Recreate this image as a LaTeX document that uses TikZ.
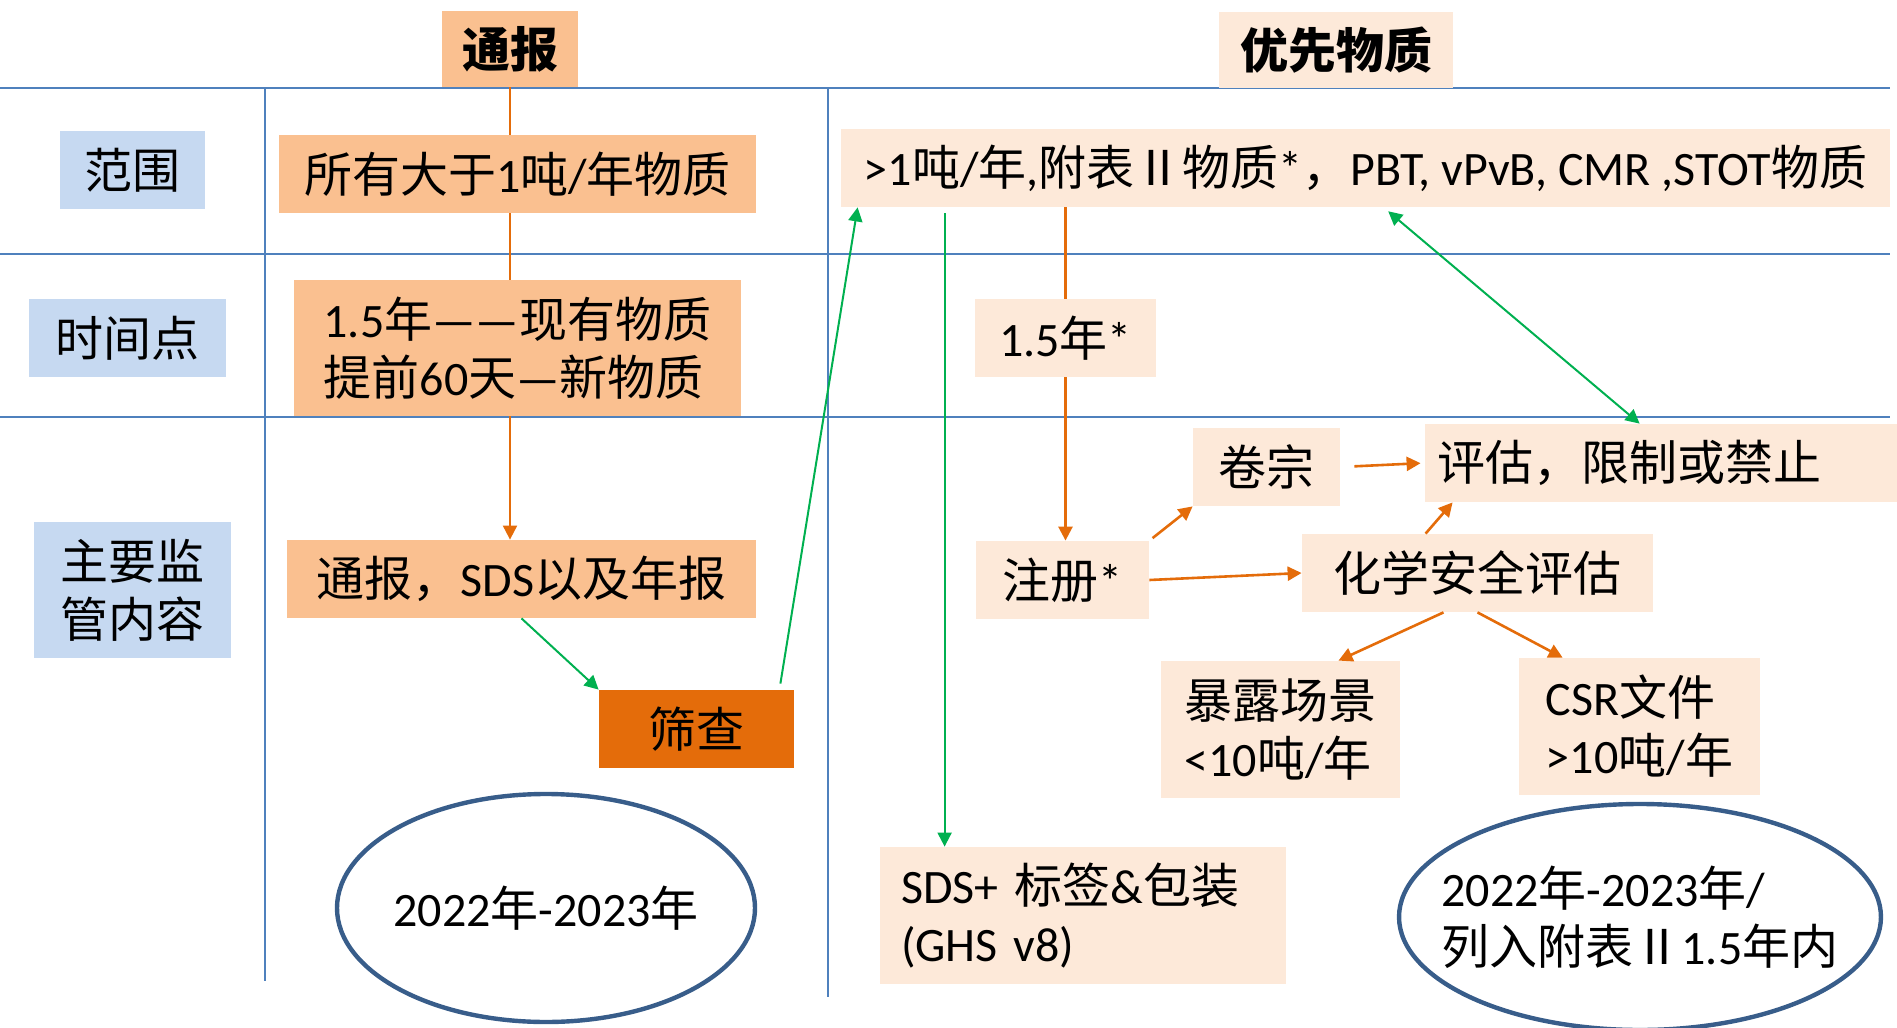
\documentclass[tikz,border=0pt]{standalone}
\usepackage{fontspec}
\setmainfont{Carlito}
\newfontfamily\cjkfont{Noto Sans CJK SC}
\usetikzlibrary{shapes.geometric,arrows.meta}

\XeTeXinterchartokenstate=1
\newXeTeXintercharclass\cjkclass
\newcount\cjkidx
\cjkidx="4E00
\loop
  \XeTeXcharclass\cjkidx=\cjkclass
  \advance\cjkidx by 1
\ifnum\cjkidx<"A000 \repeat
\XeTeXcharclass"FF0C=\cjkclass
\XeTeXcharclass"2161=\cjkclass
\XeTeXinterchartoks 0 \cjkclass = {\cjkfont}
\XeTeXinterchartoks 4095 \cjkclass = {\cjkfont}
\XeTeXinterchartoks \cjkclass 0 = {\rmfamily}
\XeTeXinterchartoks \cjkclass 4095 = {\rmfamily}

\definecolor{rowblue}{HTML}{C6D9F1}
\definecolor{noteorange}{HTML}{FAC090}
\definecolor{prpeach}{HTML}{FDE9D9}
\definecolor{screenorange}{HTML}{E46C0A}
\definecolor{gridblue}{HTML}{4F81BD}
\definecolor{ringblue}{HTML}{385D8A}
\definecolor{arrorange}{HTML}{E46C0A}
\definecolor{arrgreen}{HTML}{00B050}

\begin{document}
\begin{tikzpicture}[x=0.5pt,y=-0.5pt,
    every node/.style={font=\fontsize{24}{29}\selectfont, inner sep=0pt},
    headbox/.style={minimum height=38pt, font=\fontsize{24}{29}\selectfont\bfseries},
    rowlabel/.style={fill=rowblue, minimum height=39pt, align=center},
    notebox/.style={fill=noteorange, minimum height=39pt},
    prbox/.style={fill=prpeach, minimum height=39pt},
    gridline/.style={draw=gridblue, line width=1.1pt},
    colline/.style={draw=gridblue, line width=0.8pt},
    orline/.style={draw=arrorange, line width=1pt},
    orarrow/.style={draw=arrorange, line width=1.3pt, -{Triangle[length=7pt,width=7pt]}},
    grarrow/.style={draw=arrgreen, line width=1pt, -{Triangle[length=7pt,width=7pt]}},
    yearring/.style={draw=ringblue, line width=2.2pt, shape=ellipse}]
    \useasboundingbox (0,0) rectangle (1897,1028);

    \draw [gridline] (0,88) to (1890,88);
    \draw [gridline] (0,254) to (1890,254);
    \draw [gridline] (0,417) to (1890,417);
    \draw [colline] (265,88) to (265,981);
    \draw [colline] (828,88) to (828,997);

    \node [headbox, fill=noteorange, minimum width=68pt] (hdrnote) at (510,49) {通报};
    \node [headbox, fill=prpeach, minimum width=117pt] (hdrprio) at (1336,50) {优先物质};

    \node [rowlabel, minimum width=72.5pt] (rscope) at (132.5,170) {范围};
    \node [rowlabel, minimum width=98.5pt] (rtime) at (127.5,338) {时间点};
    \node [rowlabel, minimum width=98.5pt, minimum height=68pt] (rmain) at (132.5,590) {主要监\\管内容};

    \node [notebox, minimum width=238.5pt] (nscope) at (517.5,174) {所有大于1吨/年物质};
    \node [notebox, minimum width=223.5pt, minimum height=68pt, align=left] (ntime) at (517.5,348) {1.5年——现有物质\\提前60天—新物质};
    \node [notebox, minimum width=234.5pt] (nmain) at (521.5,579) {通报，SDS以及年报};
    \node [fill=screenorange, minimum width=97.5pt, minimum height=39pt] (screen) at (696.5,729) {筛查};
    \node [yearring, inner xsep=-3pt, minimum width=209pt, minimum height=114pt] (nyears) at (546,908) {2022年-2023年};

    \node [prbox, minimum width=524.5pt] (pscope) at (1365.5,168) {>1吨/年,附表Ⅱ物质*，PBT, vPvB, CMR ,STOT物质};
    \node [prbox, minimum width=90.5pt] (ptime) at (1065.5,338) {1.5年*};
    \node [prbox, minimum width=86.5pt] (preg) at (1062.5,580) {注册*};
    \node [prbox, minimum width=73.5pt] (pdossier) at (1266.5,467) {卷宗};
    \node [prbox, text width=224pt, inner xsep=6pt, align=left] (peval) at (1661,463) {评估，限制或禁止};
    \node [prbox, minimum width=175.5pt] (pcsa) at (1477.5,573) {化学安全评估};
    \node [prbox, minimum width=119.5pt, minimum height=68.5pt, align=left] (pexpo) at (1280.5,729.5) {暴露场景\\<10吨/年};
    \node [prbox, minimum width=120.5pt, minimum height=68.5pt, align=left] (pcsr) at (1639.5,726.5) {CSR文件\\>10吨/年};
    \node [prbox, text width=182pt, inner xsep=10.5pt, minimum height=68.5pt, align=left] (psds) at (1083,915.5) {SDS+ 标签\&包装\\(GHS v8)};
    \node [yearring, inner xsep=-14pt, minimum width=238pt, minimum height=113pt, align=left] (pyears) at (1640,917) {2022年-2023年/\\列入附表Ⅱ1.5年内};

    \draw [orline] (hdrnote.south) to (nscope.north -| hdrnote.south);
    \draw [orline] (nscope.south -| hdrnote.south) to (ntime.north -| hdrnote.south);
    \draw [orarrow, line width=1pt] (ntime.south -| hdrnote.south) to (nmain.north -| hdrnote.south);
    \draw [grarrow] (nmain.south) to (screen.north west);
    \draw [grarrow] ([xshift=-7pt,yshift=3pt]screen.north east) to ([xshift=8.5pt]pscope.south west);
    \draw [grarrow, shorten <=3pt] ([xshift=52pt]pscope.south west) to ([xshift=32.5pt]psds.north west);
    \draw [grarrow, {Triangle[length=7pt,width=7pt]}-{Triangle[length=7pt,width=7pt]}, shorten <=3pt] ([xshift=271.5pt]pscope.south west) to ([xshift=107.5pt]peval.north west);

    \draw [orline, line width=1.2pt] (ptime.north |- pscope.south) to (ptime.north);
    \draw [orarrow] (ptime.south) to (ptime.south |- preg.north);
    \draw [orarrow, shorten <=2pt] (preg.north east) to (pdossier.south west);
    \draw [orarrow] (preg.east) to (pcsa.west);
    \draw [orarrow, shorten <=7pt, shorten >=2pt] (pdossier.east) to (peval.west);
    \draw [orarrow] ([xshift=62pt]pcsa.north west) to ([xshift=14pt]peval.south west);
    \draw [orarrow] ([xshift=-17pt]pcsa.south) to ([xshift=29pt]pexpo.north);
    \draw [orarrow] (pcsa.south) to ([xshift=22pt]pcsr.north west);
\end{tikzpicture}
\end{document}
